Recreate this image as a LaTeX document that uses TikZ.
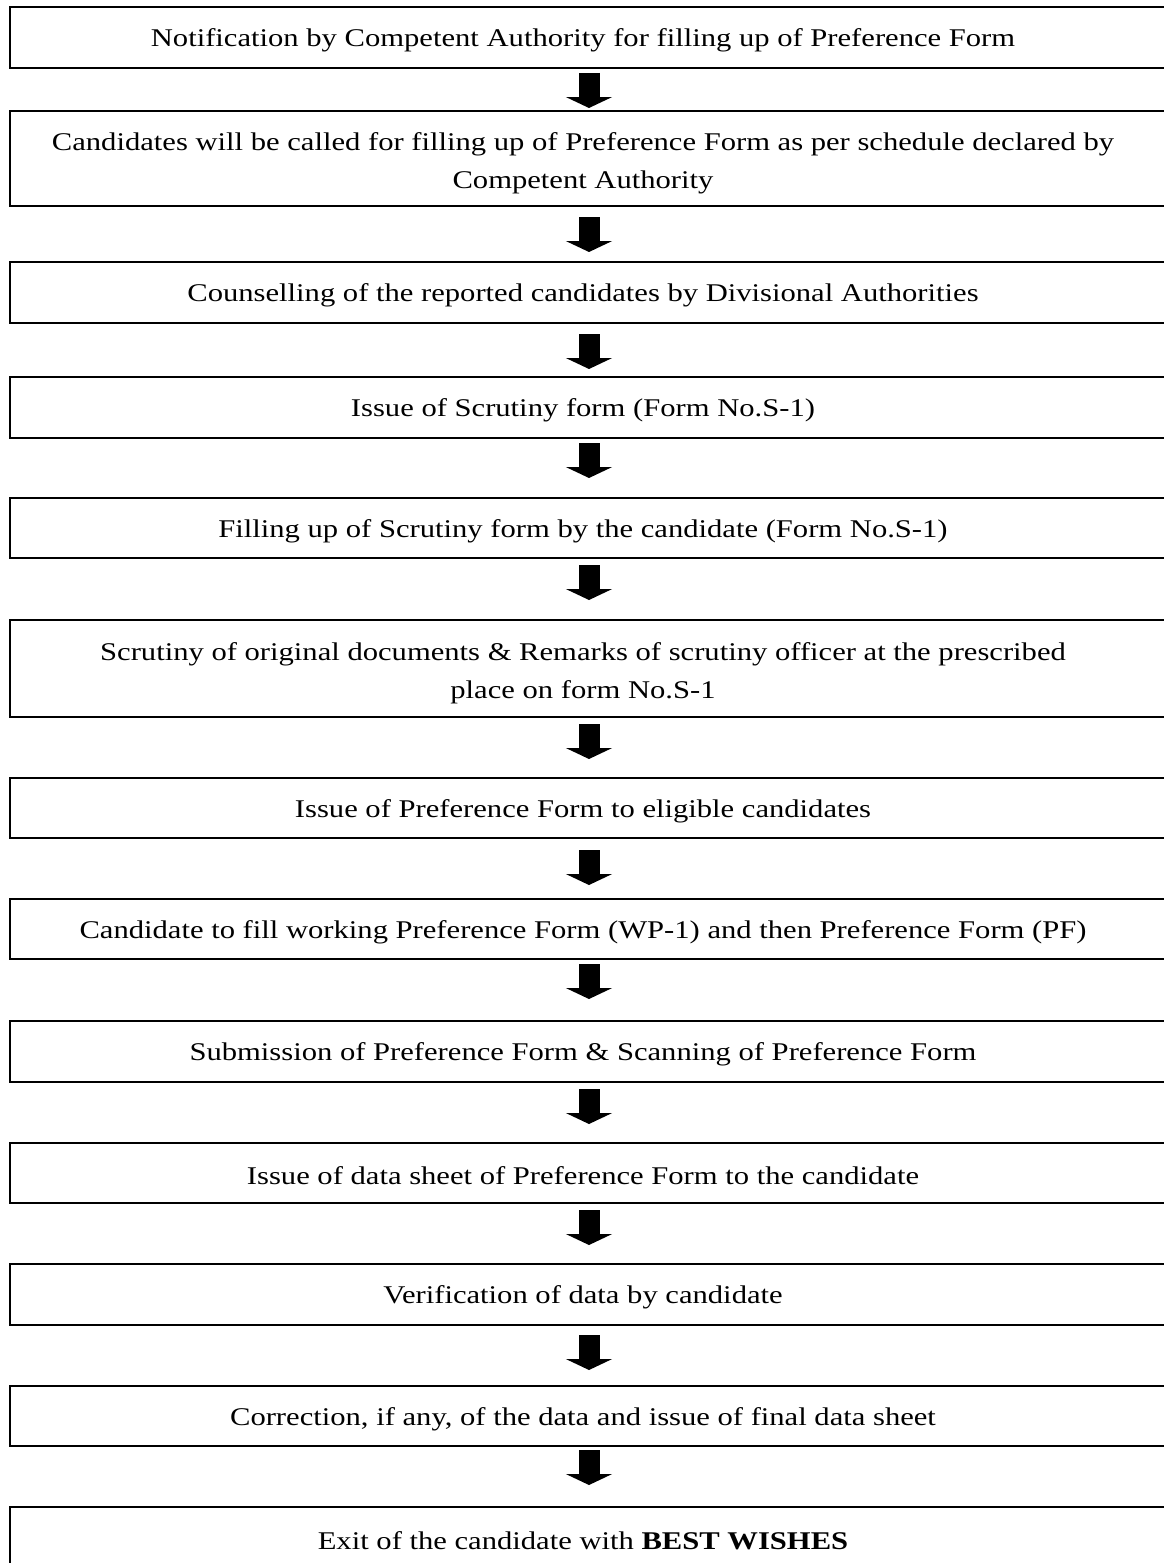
\documentclass[tikz,border=0pt]{standalone}
\usepackage{fontspec}
\setmainfont{Liberation Serif}[FakeStretch=1.2]
\usetikzlibrary{arrows.meta}
\tikzset{
  stepbox/.style={draw, line width=2pt, inner sep=0pt, minimum width=1171pt, anchor=west},
  steptext/.style={inner sep=0pt, align=center, yshift=-3pt, font=\fontsize{25.5}{38}\selectfont},
  blockarrow/.style={line width=21pt, -{Triangle[length=11pt, width=46pt]}},
}
\begin{document}
\begin{tikzpicture}[x=1pt, y=-1pt]
\useasboundingbox (0,0) rectangle (1164,1563);
\clip (0,0) rectangle (1164,1563);
\fill[white] (0,0) rectangle (1164,1563);
% boxes
\node[stepbox, minimum height=61pt] (b1) at (9,37.5) {};
\node[stepbox, minimum height=95pt] (b2) at (9,158.5) {};
\node[stepbox, minimum height=61pt] (b3) at (9,292.5) {};
\node[stepbox, minimum height=61pt] (b4) at (9,407.5) {};
\node[stepbox, minimum height=60pt] (b5) at (9,528) {};
\node[stepbox, minimum height=97pt] (b6) at (9,668.5) {};
\node[stepbox, minimum height=60pt] (b7) at (9,808) {};
\node[stepbox, minimum height=60pt] (b8) at (9,929) {};
\node[stepbox, minimum height=61pt] (b9) at (9,1051.5) {};
\node[stepbox, minimum height=60pt] (b10) at (9,1173) {};
\node[stepbox, minimum height=61pt] (b11) at (9,1294.5) {};
\node[stepbox, minimum height=60pt] (b12) at (9,1416) {};
\node[stepbox, minimum height=61pt] (b13) at (9,1537.5) {};
% texts
\node[steptext] (t1) at (583,37.5) {Notification by Competent Authority for filling up of Preference Form};
\node[steptext] (t2) at (583,160) {Candidates will be called for filling up of Preference Form as per schedule declared by\\Competent Authority};
\node[steptext] (t3) at (583,292.5) {Counselling of the reported candidates by Divisional Authorities};
\node[steptext] (t4) at (583,407.5) {Issue of Scrutiny form (Form No.S-1)};
\node[steptext] (t5) at (583,528) {Filling up of Scrutiny form by the candidate (Form No.S-1)};
\node[steptext] (t6) at (583,670) {Scrutiny of original documents \& Remarks of scrutiny officer at the prescribed\\place on form No.S-1};
\node[steptext] (t7) at (583,808) {Issue of Preference Form to eligible candidates};
\node[steptext] (t8) at (583,929) {Candidate to fill working Preference Form (WP-1) and then Preference Form (PF)};
\node[steptext] (t9) at (583,1051.5) {Submission of Preference Form \& Scanning of Preference Form};
\node[steptext] (t10) at (583,1173) {Issue of data sheet of Preference Form to the candidate};
\node[steptext] (t11) at (583,1294.5) {Verification of data by candidate};
\node[steptext] (t12) at (583,1416) {Correction, if any, of the data and issue of final data sheet};
\node[steptext] (t13) at (583,1537.5) {Exit of the candidate with \textbf{BEST WISHES}};
% arrows
\foreach \i/\j/\o in {1/2/4, 2/3/10, 3/4/10, 4/5/4, 5/6/6, 6/7/6, 7/8/11, 8/9/4, 9/10/6, 10/11/6, 11/12/9, 12/13/3}{
  \draw[blockarrow] ([xshift=-6.5pt, yshift=-\o pt]b\i.south) -- ([xshift=-6.5pt, yshift=-\o pt-35pt]b\i.south);
}
\end{tikzpicture}
\end{document}
